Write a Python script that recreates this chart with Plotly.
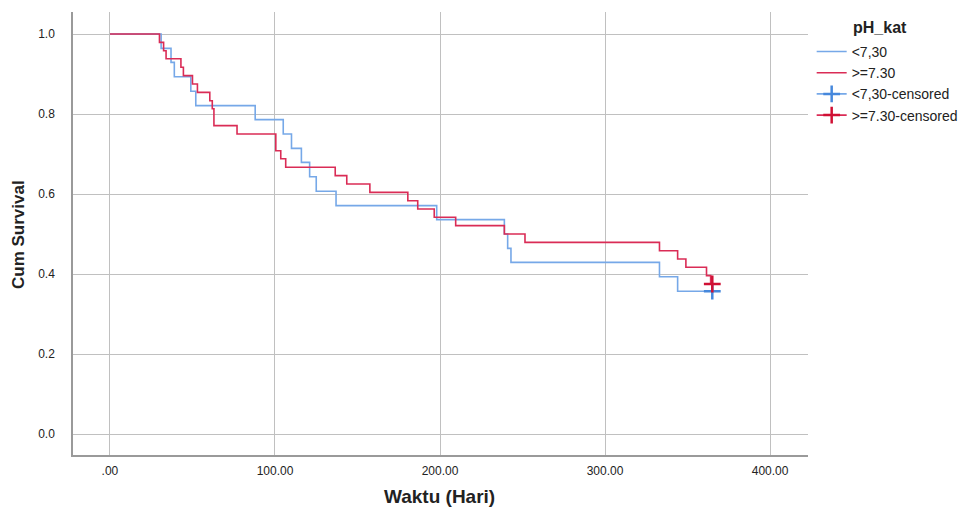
import plotly.graph_objects as go

# Kaplan-Meier step data
blue_name = "<7,30"
blue_time = [0, 31, 37, 39, 49, 52, 88, 105, 110, 116, 121, 125, 137, 198, 239, 241, 243, 333, 344, 365]
blue_surv = [1.0, 0.964, 0.929, 0.893, 0.857, 0.821, 0.786, 0.750, 0.714, 0.679, 0.643, 0.607, 0.571,
             0.536, 0.500, 0.464, 0.429, 0.393, 0.357, 0.357]

red_name = ">=7.30"
red_time = [0, 30, 32.5, 34, 43, 44.5, 50, 53, 60.5, 62, 63, 77, 100.5, 103.5, 106.5, 136.5, 143.5,
            157.5, 180.5, 186.5, 196.5, 209.5, 239, 251.5, 333, 344, 349, 361.5, 364, 365]
red_surv = [1.0, 0.979, 0.958, 0.938, 0.917, 0.896, 0.875, 0.854, 0.833, 0.813, 0.771, 0.750, 0.708,
            0.688, 0.667, 0.646, 0.625, 0.604, 0.583, 0.5625, 0.542, 0.521, 0.500, 0.479, 0.458,
            0.4375, 0.417, 0.396, 0.375, 0.375]

blue_cens_time = [365]
blue_cens_surv = [0.357]
red_cens_time = [365]
red_cens_surv = [0.375]

x_ticks = [0, 100, 200, 300, 400]
x_labels = [".00", "100.00", "200.00", "300.00", "400.00"]
y_ticks = [0.0, 0.2, 0.4, 0.6, 0.8, 1.0]
y_labels = ["0.0", "0.2", "0.4", "0.6", "0.8", "1.0"]

legend_title = "pH_kat"
x_title = "Waktu (Hari)"
y_title = "Cum Survival"

BLUE = "rgb(118,168,232)"
RED = "rgb(218,44,86)"
BLUE_M = "rgb(70,136,220)"
RED_M = "rgb(208,16,52)"
FONT = "Liberation Sans, Arial, sans-serif"
TXT = "#222222"

fig = go.Figure()
fig.add_trace(go.Scatter(x=blue_time, y=blue_surv, mode="lines", line_shape="hv",
                         line=dict(color=BLUE, width=1.6), name=blue_name))
fig.add_trace(go.Scatter(x=red_time, y=red_surv, mode="lines", line_shape="hv",
                         line=dict(color=RED, width=1.6), name=red_name))
fig.add_trace(go.Scatter(x=blue_cens_time, y=blue_cens_surv, mode="lines+markers",
                         line=dict(color=BLUE, width=1.6),
                         marker=dict(symbol="cross-thin", size=12, line=dict(color=BLUE_M, width=2.5)),
                         name=blue_name + "-censored"))
fig.add_trace(go.Scatter(x=red_cens_time, y=red_cens_surv, mode="lines+markers",
                         line=dict(color=RED, width=1.6),
                         marker=dict(symbol="cross-thin", size=12, line=dict(color=RED_M, width=2.5)),
                         name=red_name + "-censored"))

fig.update_layout(
    width=976, height=511,
    margin=dict(l=73, r=168, t=12, b=56),
    paper_bgcolor="white", plot_bgcolor="white",
    font=dict(family=FONT, size=12, color=TXT),
    showlegend=True,
    legend=dict(x=1.005, y=0.946, xanchor="left", yanchor="top",
                font=dict(family=FONT, size=14, color=TXT),
                tracegroupgap=0, itemwidth=30),
    xaxis=dict(range=[-22.4, 423], tickvals=x_ticks, ticktext=x_labels,
               showgrid=True, gridcolor="#C0C0C0", gridwidth=1,
               showline=True, linecolor="#9A9A9A", linewidth=1.5,
               zeroline=False, ticks="", ticklabelstandoff=4,
               tickfont=dict(size=12, color=TXT), automargin=False),
    yaxis=dict(range=[-0.0525, 1.055], tickvals=y_ticks, ticktext=y_labels,
               showgrid=True, gridcolor="#C0C0C0", gridwidth=1,
               showline=True, linecolor="#9A9A9A", linewidth=1.5,
               zeroline=False, ticks="", ticklabelstandoff=14,
               tickfont=dict(size=12, color=TXT), automargin=False),
    annotations=[
        dict(text="<b>" + legend_title + "</b>", xref="paper", yref="paper", x=1.098, y=0.964,
             xanchor="center", yanchor="middle", showarrow=False,
             font=dict(family=FONT, size=16, color=TXT)),
        dict(text="<b>" + x_title + "</b>", xref="paper", yref="paper", x=0.4993, y=-0.0948,
             xanchor="center", yanchor="middle", showarrow=False,
             font=dict(family=FONT, size=19, color=TXT)),
        dict(text="<b>" + y_title + "</b>", xref="paper", yref="paper", x=-0.0748, y=0.4966,
             xanchor="center", yanchor="middle", showarrow=False, textangle=-90,
             font=dict(family=FONT, size=17, color=TXT)),
    ],
)

fig.write_html("out.html")
